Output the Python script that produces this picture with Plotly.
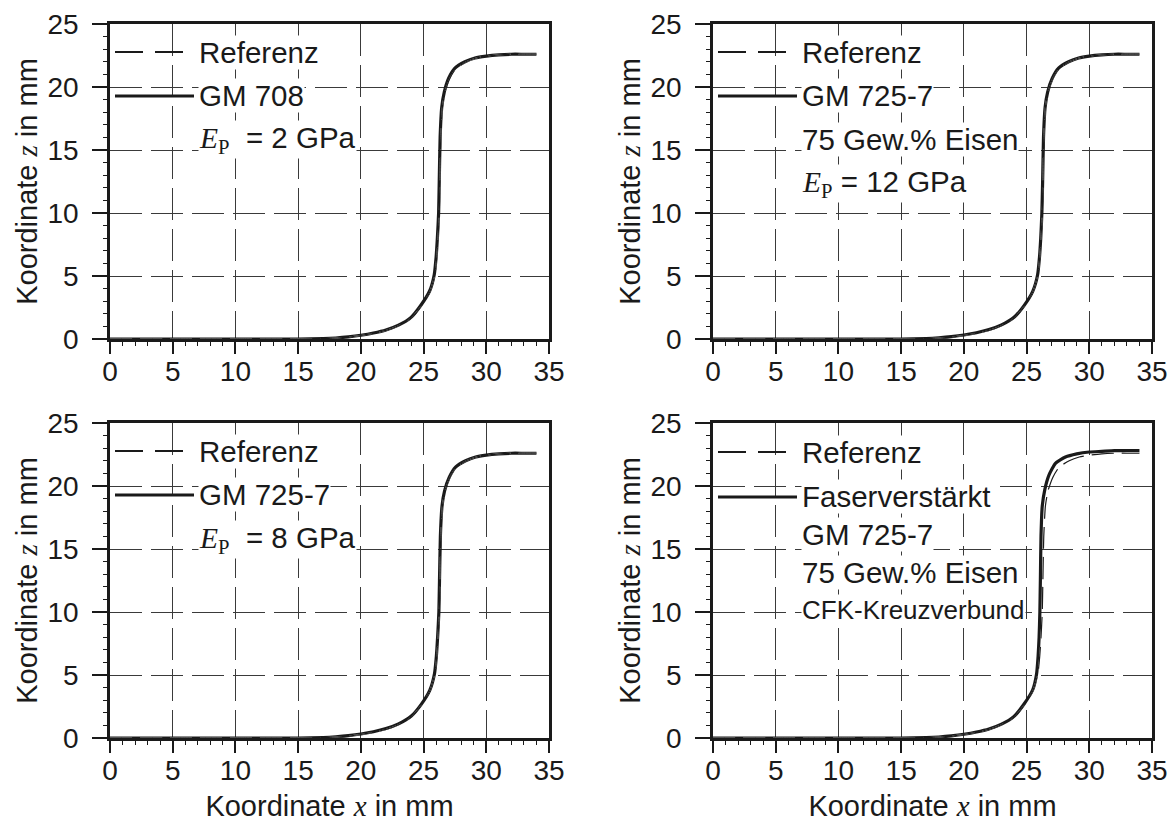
import plotly.graph_objects as go

# ---- data -----------------------------------------------------------------
# Reference profile (identical in all four panels)
x_ref = [0, 5, 10, 15, 17, 18, 19, 20, 21, 22, 23, 24, 24.8, 25.5, 25.9, 26.05,
         26.15, 26.25, 26.3, 26.37, 26.5, 26.7, 27.1, 27.6, 28.4, 29.2, 30, 31, 32, 33, 34]
z_ref = [0, 0, 0, 0, 0.03, 0.08, 0.16, 0.28, 0.45, 0.68, 1.05, 1.65, 2.6, 3.75, 5.1, 6.5,
         8.0, 10.0, 12.5, 16.0, 18.4, 19.6, 20.7, 21.5, 22.0, 22.3, 22.45, 22.55, 22.6, 22.6, 22.6]

# Measured profiles
x_gm708 = [0, 5, 10, 15, 17, 18, 19, 20, 21, 22, 23, 24, 24.8, 25.5, 25.85, 26.0,
           26.1, 26.2, 26.25, 26.32, 26.45, 26.65, 27.0, 27.5, 28.3, 29.1, 30, 31, 32, 33, 34]
z_gm708 = [0, 0, 0, 0, 0.03, 0.08, 0.17, 0.3, 0.48, 0.72, 1.1, 1.72, 2.7, 3.85, 5.1, 6.5,
           8.0, 10.0, 12.5, 16.0, 18.4, 19.6, 20.7, 21.5, 22.0, 22.3, 22.45, 22.55, 22.6, 22.6, 22.6]

x_gm725_12 = [0, 5, 10, 15, 17, 18, 19, 20, 21, 22, 23, 24, 24.8, 25.5, 25.88, 26.03,
              26.13, 26.22, 26.28, 26.35, 26.48, 26.68, 27.05, 27.55, 28.35, 29.15, 30, 31, 32, 33, 34]
z_gm725_12 = [0, 0, 0, 0, 0.04, 0.1, 0.19, 0.32, 0.5, 0.75, 1.12, 1.72, 2.65, 3.8, 5.1, 6.5,
              8.0, 10.0, 12.5, 16.0, 18.4, 19.6, 20.7, 21.5, 22.0, 22.3, 22.45, 22.55, 22.6, 22.6, 22.6]

x_gm725_8 = [0, 5, 10, 15, 17, 18, 19, 20, 21, 22, 23, 24, 24.8, 25.5, 25.87, 26.02,
             26.12, 26.22, 26.27, 26.34, 26.47, 26.67, 27.05, 27.55, 28.35, 29.15, 30, 31, 32, 33, 34]
z_gm725_8 = [0, 0, 0, 0, 0.04, 0.1, 0.19, 0.32, 0.5, 0.75, 1.12, 1.72, 2.65, 3.8, 5.1, 6.5,
             8.0, 10.0, 12.5, 16.0, 18.4, 19.6, 20.7, 21.5, 22.0, 22.3, 22.45, 22.55, 22.6, 22.6, 22.6]

x_faser = [0, 5, 10, 15, 17, 18, 19, 20, 21, 22, 23, 24, 24.8, 25.5, 25.8, 25.92,
           26.0, 26.06, 26.1, 26.15, 26.25, 26.45, 26.8, 27.3, 28.1, 29.0, 30, 31, 32, 33, 34]
z_faser = [0, 0, 0, 0, 0.03, 0.08, 0.17, 0.3, 0.48, 0.72, 1.1, 1.72, 2.7, 3.85, 5.1, 6.5,
           8.0, 10.0, 12.5, 16.0, 18.4, 19.7, 20.9, 21.8, 22.3, 22.55, 22.7, 22.75, 22.8, 22.8, 22.8]

panels = [
    dict(x=x_gm708, z=z_gm708,
         labels=["Referenz", "GM 708", "<i>E</i><sub>P</sub>  = 2 GPa"]),
    dict(x=x_gm725_12, z=z_gm725_12,
         labels=["Referenz", "GM 725-7", "75 Gew.% Eisen", "<i>E</i><sub>P</sub> = 12 GPa"]),
    dict(x=x_gm725_8, z=z_gm725_8,
         labels=["Referenz", "GM 725-7", "<i>E</i><sub>P</sub>  = 8 GPa"]),
    dict(x=x_faser, z=z_faser,
         labels=["Referenz", "Faserverstärkt", "GM 725-7", "75 Gew.% Eisen", "CFK-Kreuzverbund"]),
]

x_ticks = [0, 5, 10, 15, 20, 25, 30, 35]
z_ticks = [0, 5, 10, 15, 20, 25]

# ---- layout geometry (pixels) -------------------------------------------
W, H = 1176, 827
boxes = [  # left, top, right, bottom of each plot area
    (110, 24, 549, 339),
    (713, 24, 1152, 339),
    (110, 423, 549, 738),
    (713, 423, 1152, 738),
]

SANS = "Liberation Sans, Arial, sans-serif"
INK = "#1a1a1a"
GRID = "#3a3a3a"
TXT = 29.5     # legend text size
TICK = 28      # tick label size
TITLE = 29     # axis title size


def px(xp):
    return xp / W


def py(yp):
    return 1 - yp / H


def serif(s):
    return s.replace("<i>E</i><sub>P</sub>",
                     "<span style='font-family:Liberation Serif'><i>E</i><sub>P</sub></span>")


fig = go.Figure()
layout = dict(
    width=W, height=H, margin=dict(l=0, r=0, t=0, b=0),
    paper_bgcolor="white", plot_bgcolor="white", showlegend=False,
    font=dict(family=SANS, size=TICK, color=INK),
)
shapes, annotations = [], []

for i, (p, (l, t, r, b)) in enumerate(zip(panels, boxes)):
    n = "" if i == 0 else str(i + 1)
    xa, ya = "x" + n, "y" + n
    bottom_row = i >= 2

    axis_common = dict(
        automargin=False,
        showline=True, mirror=True, linecolor=INK, linewidth=2.5,
        ticks="outside", tickwidth=2, tickcolor=INK,
        showgrid=True, gridcolor=GRID, gridwidth=1, griddash="32px,9px",
        zeroline=False, tickfont=dict(size=TICK, family=SANS, color=INK),
        minor=dict(dtick=1, ticks="outside", ticklen=4, tickwidth=1.2, tickcolor=INK,
                   showgrid=False),
    )
    xaxis = dict(
        axis_common, domain=[px(l), px(r)], anchor=ya, range=[0, 35], ticklen=12,
        tickvals=x_ticks, ticktext=[str(v) for v in x_ticks], ticklabelstandoff=-6,
    )
    if bottom_row:
        xaxis["title"] = dict(
            text="Koordinate <span style='font-family:Liberation Serif'><i>x</i></span> in mm",
            font=dict(size=TITLE, family=SANS, color=INK), standoff=11)
    layout["xaxis" + n] = xaxis
    layout["yaxis" + n] = dict(
        axis_common, domain=[py(b), py(t)], anchor=xa, range=[0, 25], ticklen=15,
        tickvals=z_ticks, ticktext=[str(v) for v in z_ticks], ticklabelstandoff=8,
        title=dict(text="Koordinate <span style='font-family:Liberation Serif'><i>z</i></span> in mm",
                   font=dict(size=TITLE, family=SANS, color=INK), standoff=2),
    )

    # measured profile (solid) and reference (dashed)
    fig.add_trace(go.Scatter(x=p["x"], y=p["z"], mode="lines", xaxis=xa, yaxis=ya,
                             line=dict(color=INK, width=3.2, shape="spline", smoothing=0.5)))
    fig.add_trace(go.Scatter(x=x_ref, y=z_ref, mode="lines", xaxis=xa, yaxis=ya,
                             line=dict(color="white", width=1.0, shape="spline", smoothing=0.5,
                                       dash="22px,8px")))
    fig.add_trace(go.Scatter(x=x_ref, y=z_ref, mode="lines", xaxis=xa, yaxis=ya,
                             line=dict(color=INK, width=1.2, shape="spline", smoothing=0.5,
                                       dash="22px,8px")))

    # legend block
    labels = p["labels"]
    text_x = l + 88
    if len(labels) <= 4:
        rows = [t + 28 + k * 44 for k in range(len(labels))]
    else:
        rows = [t + 29, t + 74, t + 111, t + 149, t + 187]
    for k, (lab, yy) in enumerate(zip(labels, rows)):
        size = 26 if lab.startswith("CFK") else TXT
        annotations.append(dict(
            x=px(text_x), y=py(yy), xref="paper", yref="paper", xanchor="left", yanchor="middle",
            text=serif(lab), showarrow=False, bgcolor="white", borderpad=0,
            font=dict(size=size, family=SANS, color=INK)))
        if k == 0:
            shapes.append(dict(type="line", xref="paper", yref="paper",
                               x0=px(l + 5), x1=px(l + 73), y0=py(yy), y1=py(yy),
                               line=dict(color=INK, width=2, dash="28px,12px")))
        elif k == 1:
            shapes.append(dict(type="line", xref="paper", yref="paper",
                               x0=px(l + 5), x1=px(l + 84), y0=py(yy), y1=py(yy),
                               line=dict(color=INK, width=3)))

layout["shapes"] = shapes
layout["annotations"] = annotations
fig.update_layout(**layout)
fig.write_html("out.html")
